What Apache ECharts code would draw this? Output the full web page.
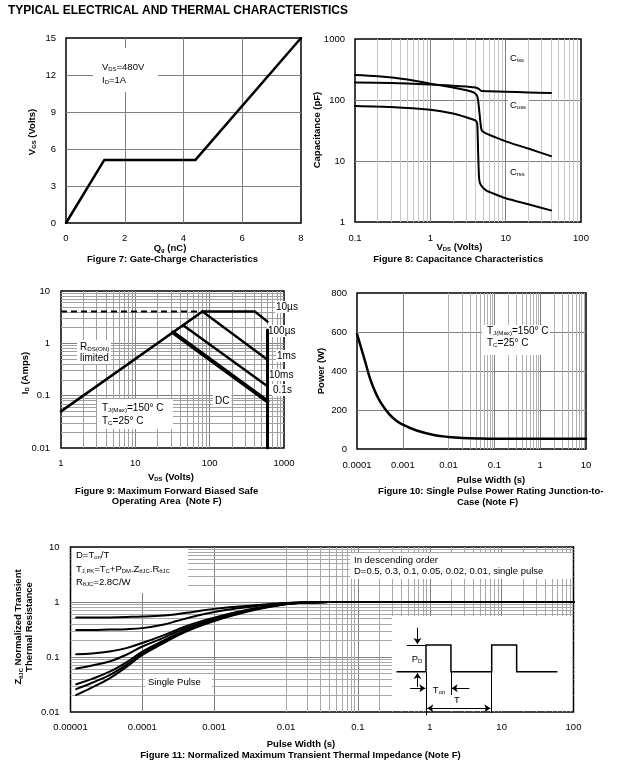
<!DOCTYPE html>
<html><head><meta charset="utf-8">
<script src="https://cdn.jsdelivr.net/npm/echarts@6/dist/echarts.min.js"></script>
<style>html,body{margin:0;padding:0;background:#fff}#c{width:626px;height:770px}</style>
</head><body><div id="c"></div>
<script>
// ---------- Figure 7: gate charge ----------
const gcQ = [0, 1.3, 4.4, 8];
const gcV = [0, 5.1, 5.1, 15];
// ---------- Figure 8: capacitance ----------
const cissV = [0.1, 0.3, 1, 2, 3, 4, 4.4, 4.8, 6, 10, 20, 40];
const cissC = [193, 190, 180, 172, 166, 160, 152, 140, 139, 137, 133, 130];
const cossV = [0.1, 0.2, 0.5, 1, 2, 3, 3.8, 4.2, 4.5, 4.8, 5.3, 7, 10, 20, 40];
const cossC = [257, 245, 217, 185, 160, 145, 132, 115, 60, 32, 29, 25, 21, 16, 12];
const crssV = [0.1, 0.3, 1, 2, 3, 4, 4.2, 4.3, 4.45, 4.7, 5.5, 7, 10, 20, 40];
const crssC = [80, 77, 69, 60, 52, 46, 40, 15, 5, 4, 3.3, 2.9, 2.45, 1.95, 1.55];
const f8XLabels = ['0.1', '1', '10', '100'];
const f8YLabels = ['1', '10', '100', '1000'];
// ---------- Figure 9: SOA ----------
const soaRdsV = [1, 80], soaRdsI = [0.05, 4.06];
const soaDashV = [1, 80], soaDashI = [4.06, 4.06];
const soa10usV = [80, 405, 600], soa10usI = [4.06, 4.06, 2.6];
const soa100usV = [80, 600], soa100usI = [4.06, 0.485];
const soa1msV = [44, 600], soa1msI = [2.22, 0.151];
const soaDcV = [32, 600], soaDcI = [1.62, 0.078];
const soaVertV = [600, 600], soaVertI = [1.8, 0.01];
const f9XLabels = ['1', '10', '100', '1000'];
const f9YLabels = ['0.01', '0.1', '1', '10'];
// ---------- Figure 10: single pulse power ----------
const pwrT = [1e-4, 1.5e-4, 2e-4, 3e-4, 5e-4, 7e-4, 1e-3, 2e-3, 5e-3, 1e-2, 2e-2, 5e-2, 0.1, 1, 10];
const pwrP = [590, 450, 350, 255, 180, 148, 125, 95, 71, 62, 57, 54, 53, 53, 53];
const f10XLabels = ['0.0001', '0.001', '0.01', '0.1', '1', '10'];
// ---------- Figure 11: transient thermal impedance ----------
const tZ = [1.2e-5, 2e-5, 3.5e-5, 6e-5, 1e-4, 2e-4, 3e-4, 5e-4, 1e-3, 2e-3, 4e-3, 1e-2, 2e-2, 4e-2, 0.1, 1, 10, 100];
const zD05 = [0.52, 0.52, 0.525, 0.535, 0.545, 0.57, 0.6, 0.66, 0.75, 0.82, 0.88, 0.96, 0.99, 1, 1, 1, 1, 1];
const zD03 = [0.31, 0.31, 0.315, 0.32, 0.335, 0.39, 0.45, 0.54, 0.66, 0.76, 0.85, 0.95, 0.99, 1, 1, 1, 1, 1];
const zD01 = [0.112, 0.116, 0.126, 0.145, 0.18, 0.25, 0.31, 0.4, 0.52, 0.65, 0.78, 0.93, 0.98, 1, 1, 1, 1, 1];
const zD005 = [0.062, 0.07, 0.083, 0.11, 0.155, 0.225, 0.285, 0.37, 0.49, 0.63, 0.77, 0.93, 0.98, 1, 1, 1, 1, 1];
const zD002 = [0.032, 0.04, 0.054, 0.08, 0.125, 0.2, 0.26, 0.345, 0.47, 0.61, 0.76, 0.92, 0.98, 1, 1, 1, 1, 1];
const zD001 = [0.026, 0.034, 0.047, 0.072, 0.117, 0.19, 0.25, 0.335, 0.46, 0.6, 0.75, 0.92, 0.98, 1, 1, 1, 1, 1];
const zSingle = [0.0204, 0.028, 0.041, 0.066, 0.109, 0.18, 0.24, 0.325, 0.45, 0.59, 0.74, 0.91, 0.98, 1, 1, 1, 1, 1];
const f11XLabels = ['0.00001', '0.0001', '0.001', '0.01', '0.1', '1', '10', '100'];
const f11YLabels = ['0.01', '0.1', '1', '10'];
// inset waveform (time in units of period T, power level 0/1)
const pulseT = [-0.45, 0, 0, 0.38, 0.38, 1, 1, 1.38, 1.38, 2.0];
const pulseP = [0, 0, 1, 1, 0, 0, 1, 1, 0, 0];

const FF = '"Liberation Sans", Arial, Helvetica, sans-serif';
const pairs = (xs, ys) => xs.map((x, i) => [x, ys[i]]);
function logMinors(lo, hi) { const o = []; for (let e = lo; e < hi; e++) for (let k = 2; k <= 9; k++) o.push(+(k * Math.pow(10, e)).toPrecision(6)); return o; }
function logFmt(arr, minExp) { return v => { const i = Math.round(Math.log10(v)) - minExp; return arr[i] !== undefined ? arr[i] : ''; }; }

function txt(x, y, text, o) {
  o = o || {};
  const size = o.size || 9.5, weight = o.bold ? 'bold' : 'normal';
  const sub = Math.round(size * 0.62 * 10) / 10;
  return {
    type: 'text', x: x, y: y, z: o.z || 10, rotation: o.rot || 0, silent: true,
    style: {
      text: text, fontSize: size, fontFamily: FF, fontWeight: weight, fill: '#000',
      align: o.align || 'left', verticalAlign: 'middle', textAlign: o.align || 'left', textVerticalAlign: 'middle',
      backgroundColor: o.bg, padding: o.pad, lineHeight: o.lh,
      rich: { s: { fontSize: sub, fontFamily: FF, fontWeight: weight, fill: '#000', verticalAlign: 'bottom', lineHeight: o.lh } }
    }
  };
}
function box(x, y, w, h) { return { type: 'rect', z: 8, silent: true, shape: { x: x, y: y, width: w, height: h }, style: { fill: '#fff' } }; }

function gridLines(idx, xs, ys, color) {
  return {
    type: 'line', xAxisIndex: idx, yAxisIndex: idx, data: [], silent: true, z: 1,
    markLine: {
      silent: true, symbol: 'none', z: 1, animation: false, label: { show: false },
      emphasis: { disabled: true },
      lineStyle: { color: color, width: 1, type: 'solid' },
      data: xs.map(v => ({ xAxis: v })).concat(ys.map(v => ({ yAxis: v })))
    }
  };
}
function curve(idx, data, width, extra) {
  return Object.assign({
    type: 'line', xAxisIndex: idx, yAxisIndex: idx, data: data, symbol: 'none', z: 20, silent: true,
    lineStyle: { color: '#000', width: width, join: 'round', cap: 'round' }, animation: false
  }, extra || {});
}
function ax(extra, labelMargin) {
  return Object.assign({
    axisLine: { show: false }, axisTick: { show: false },
    axisLabel: { color: '#000', fontSize: 9.5, fontFamily: FF, margin: labelMargin || 10 },
    splitLine: { show: true, showMinLine: false, showMaxLine: false, lineStyle: { color: '#808080', width: 1 } }
  }, extra);
}
const gridBase = { show: true, borderColor: '#000', borderWidth: 1.5, backgroundColor: 'transparent', containLabel: false };

const grids = [
  Object.assign({ left: 66, top: 38, width: 235, height: 185 }, gridBase),
  Object.assign({ left: 355, top: 39, width: 226, height: 183 }, gridBase),
  Object.assign({ left: 61, top: 291, width: 223, height: 157 }, gridBase),
  Object.assign({ left: 357, top: 293, width: 229, height: 156 }, gridBase),
  Object.assign({ left: 70.5, top: 547, width: 503, height: 165 }, gridBase),
  { show: false, left: 393.15, top: 618.3, width: 170.8, height: 98.8 }
];

const xAxes = [
  ax({ gridIndex: 0, type: 'value', min: 0, max: 8, interval: 2 }, 10),
  ax({ gridIndex: 1, type: 'log', logBase: 10, min: 0.1, max: 100, splitNumber: 3, axisLabel: { color: '#000', fontSize: 9.5, fontFamily: FF, margin: 11, formatter: logFmt(f8XLabels, -1) } }),
  ax({ gridIndex: 2, type: 'log', logBase: 10, min: 1, max: 1000, splitNumber: 3, axisLabel: { color: '#000', fontSize: 9.5, fontFamily: FF, margin: 10, formatter: logFmt(f9XLabels, 0) } }),
  ax({ gridIndex: 3, type: 'log', logBase: 10, min: 1e-4, max: 10, splitNumber: 5, axisLabel: { color: '#000', fontSize: 9.5, fontFamily: FF, margin: 11, formatter: logFmt(f10XLabels, -4) } }),
  ax({ gridIndex: 4, type: 'log', logBase: 10, min: 1e-5, max: 100, splitNumber: 7, axisLabel: { color: '#000', fontSize: 9.5, fontFamily: FF, margin: 10, formatter: logFmt(f11XLabels, -5) } }),
  { gridIndex: 5, type: 'value', min: -0.5, max: 2.1, show: false }
];
const yAxes = [
  ax({ gridIndex: 0, type: 'value', min: 0, max: 15, interval: 3 }, 10),
  ax({ gridIndex: 1, type: 'log', logBase: 10, min: 1, max: 1000, splitNumber: 3, axisLabel: { color: '#000', fontSize: 9.5, fontFamily: FF, margin: 10, formatter: logFmt(f8YLabels, 0) } }),
  ax({ gridIndex: 2, type: 'log', logBase: 10, min: 0.01, max: 10, splitNumber: 3, axisLabel: { color: '#000', fontSize: 9.5, fontFamily: FF, margin: 11, formatter: logFmt(f9YLabels, -2) } }),
  ax({ gridIndex: 3, type: 'value', min: 0, max: 800, interval: 200 }, 10),
  ax({ gridIndex: 4, type: 'log', logBase: 10, min: 0.01, max: 10, splitNumber: 3, axisLabel: { color: '#000', fontSize: 9.5, fontFamily: FF, margin: 11, formatter: logFmt(f11YLabels, -2) } }),
  { gridIndex: 5, type: 'value', min: -1.7, max: 2.0, show: false }
];

const smooth = { smooth: 0.4 };
const series = [
  // minor grid lines
  gridLines(1, logMinors(-1, 2), [], '#c8c8c8'),
  gridLines(2, logMinors(0, 3), logMinors(-2, 1), '#a0a0a0'),
  gridLines(3, logMinors(-4, 1), [], '#b0b0b0'),
  gridLines(4, logMinors(-5, 2), logMinors(-2, 1), '#a8a8a8'),
  // fig 7
  curve(0, pairs(gcQ, gcV), 2.5),
  // fig 8
  curve(1, pairs(cissV, cissC), 2, { smooth: 0.3 }),
  curve(1, pairs(cossV, cossC), 2, { smooth: 0.3 }),
  curve(1, pairs(crssV, crssC), 2, { smooth: 0.2 }),
  // fig 9
  curve(2, pairs(soaDashV, soaDashI), 2, { lineStyle: { color: '#000', width: 2, type: [6, 4] } }),
  curve(2, pairs(soaRdsV, soaRdsI), 2.6),
  curve(2, pairs(soa10usV, soa10usI), 2.4),
  curve(2, pairs(soa100usV, soa100usI), 2.4),
  curve(2, pairs(soa1msV, soa1msI), 2.4),
  curve(2, pairs(soaDcV, soaDcI), 4),
  curve(2, pairs(soaVertV, soaVertI), 3),
  // fig 10
  curve(3, pairs(pwrT, pwrP), 2.5, smooth),
  // fig 11
  curve(4, pairs(tZ, zD05), 2, smooth),
  curve(4, pairs(tZ, zD03), 2, smooth),
  curve(4, pairs(tZ, zD01), 2, smooth),
  curve(4, pairs(tZ, zD005), 2, smooth),
  curve(4, pairs(tZ, zD002), 2, smooth),
  curve(4, pairs(tZ, zD001), 2, smooth),
  curve(4, pairs(tZ, zSingle), 2, smooth),
  // inset waveform
  curve(5, pairs(pulseT, pulseP), 1.5, {
    z: 22, clip: false,
    lineStyle: { color: '#000', width: 1.5, join: 'miter' },
    markLine: {
      silent: true, z: 22, animation: false, label: { show: false }, emphasis: { disabled: true },
      symbol: ['none', 'arrow'], symbolSize: 6,
      lineStyle: { color: '#000', width: 1, type: 'solid' },
      data: [
        [{ coord: [-0.13, 1.65] }, { coord: [-0.13, 1.04] }],
        [{ coord: [-0.13, -0.57] }, { coord: [-0.13, -0.05] }],
        [{ coord: [-0.29, 1], symbol: 'none' }, { coord: [0, 1], symbol: 'none' }],
        [{ coord: [-0.24, -0.62] }, { coord: [-0.01, -0.62] }],
        [{ coord: [0.66, -0.62] }, { coord: [0.39, -0.62] }],
        [{ coord: [0.38, 0], symbol: 'none' }, { coord: [0.38, -0.87], symbol: 'none' }],
        [{ coord: [0, 0], symbol: 'none' }, { coord: [0, -1.63], symbol: 'none' }],
        [{ coord: [1, 0], symbol: 'none' }, { coord: [1, -1.55], symbol: 'none' }],
        [{ coord: [0.02, -1.37], symbol: 'arrow' }, { coord: [0.98, -1.37], symbol: 'arrow' }]
      ]
    }
  })
];

const graphic = [
  txt(8, 11, 'TYPICAL ELECTRICAL AND THERMAL CHARACTERISTICS', { bold: true, size: 12 }),
  // fig 7
  box(93, 48, 65, 44),
  txt(102, 67, 'V{s|DS}=480V'),
  txt(102, 80, 'I{s|D}=1A'),
  txt(32, 132, 'V{s|GS} (Volts)', { bold: true, rot: Math.PI / 2, align: 'center' }),
  txt(170, 248, 'Q{s|g} (nC)', { bold: true, align: 'center' }),
  txt(172.5, 259, 'Figure 7: Gate-Charge Characteristics', { bold: true, align: 'center' }),
  // fig 8
  txt(508, 58, 'C{s|iss}', { bg: '#fff', pad: [1, 2] }),
  txt(508, 105, 'C{s|oss}', { bg: '#fff', pad: [1, 2] }),
  txt(508, 172, 'C{s|rss}', { bg: '#fff', pad: [1, 2] }),
  txt(317, 130, 'Capacitance (pF)', { bold: true, rot: Math.PI / 2, align: 'center' }),
  txt(459.5, 247, 'V{s|DS} (Volts)', { bold: true, align: 'center' }),
  txt(458.3, 259, 'Figure 8: Capacitance Characteristics', { bold: true, align: 'center' }),
  // fig 9
  box(77, 340, 34, 24),
  txt(80, 347, 'R{s|DS(ON)}', { size: 10 }),
  txt(80, 358, 'limited', { size: 10 }),
  txt(275, 307, '10µs', { bg: '#fff', pad: [1, 1], size: 10 }),
  txt(267, 331, '100µs', { bg: '#fff', pad: [1, 1], size: 10 }),
  txt(276, 356, '1ms', { bg: '#fff', pad: [1, 1], size: 10 }),
  txt(268, 375, '10ms', { bg: '#fff', pad: [1, 1], size: 10 }),
  txt(272, 390, '0.1s', { bg: '#fff', pad: [1, 1], size: 10 }),
  txt(213, 401, 'DC', { bg: '#fff', pad: [1, 2], size: 10 }),
  box(97, 399, 76, 30),
  txt(102, 408, 'T{s|J(Max)}=150° C', { size: 10 }),
  txt(102, 421, 'T{s|C}=25° C', { size: 10 }),
  txt(25, 373, 'I{s|D} (Amps)', { bold: true, rot: Math.PI / 2, align: 'center' }),
  txt(171, 477, 'V{s|DS} (Volts)', { bold: true, align: 'center' }),
  txt(166.7, 491, 'Figure 9: Maximum Forward Biased Safe', { bold: true, align: 'center' }),
  txt(166.7, 501.5, 'Operating Area  (Note F)', { bold: true, align: 'center' }),
  // fig 10
  box(482, 325, 68, 30),
  txt(487, 331.5, 'T{s|J(Max)}=150° C', { size: 10 }),
  txt(487, 343, 'T{s|C}=25° C', { size: 10 }),
  txt(321, 371, 'Power (W)', { bold: true, rot: Math.PI / 2, align: 'center' }),
  txt(491, 480, 'Pulse Width (s)', { bold: true, align: 'center' }),
  txt(490.8, 491, 'Figure 10: Single Pulse Power Rating Junction-to-', { bold: true, align: 'center' }),
  txt(487.5, 502, 'Case (Note F)', { bold: true, align: 'center' }),
  // fig 11
  box(72, 549, 116, 44),
  txt(76, 555, 'D=T{s|on}/T'),
  txt(76, 569, 'T{s|J,PK}=T{s|C}+P{s|DM}.Z{s|θJC}.R{s|θJC}'),
  txt(76, 582, 'R{s|θJC}=2.8C/W'),
  box(350, 553, 222, 26),
  txt(354, 560, 'In descending order'),
  txt(354, 571, 'D=0.5, 0.3, 0.1, 0.05, 0.02, 0.01, single pulse'),
  box(145, 675, 67, 14),
  txt(148, 682, 'Single Pulse'),
  box(392, 616, 180, 95),
  txt(417, 659, 'P{s|D}', { align: 'center', z: 23 }),
  txt(439, 690, 'T{s|on}', { align: 'center', z: 23 }),
  txt(457, 700, 'T', { align: 'center', z: 23 }),
  txt(24, 627, 'Z{s|θJC} Normalized Transient\nThermal Resistance', { bold: true, rot: Math.PI / 2, align: 'center', lh: 10.5 }),
  txt(301, 744, 'Pulse Width (s)', { bold: true, align: 'center' }),
  txt(300.5, 755.5, 'Figure 11: Normalized Maximum Transient Thermal Impedance (Note F)', { bold: true, align: 'center' })
];

const chart = echarts.init(document.getElementById('c'), null, { renderer: 'canvas' });
chart.setOption({
  animation: false,
  backgroundColor: '#fff',
  textStyle: { fontFamily: FF },
  grid: grids, xAxis: xAxes, yAxis: yAxes, series: series, graphic: graphic
});
</script>
</body></html>
